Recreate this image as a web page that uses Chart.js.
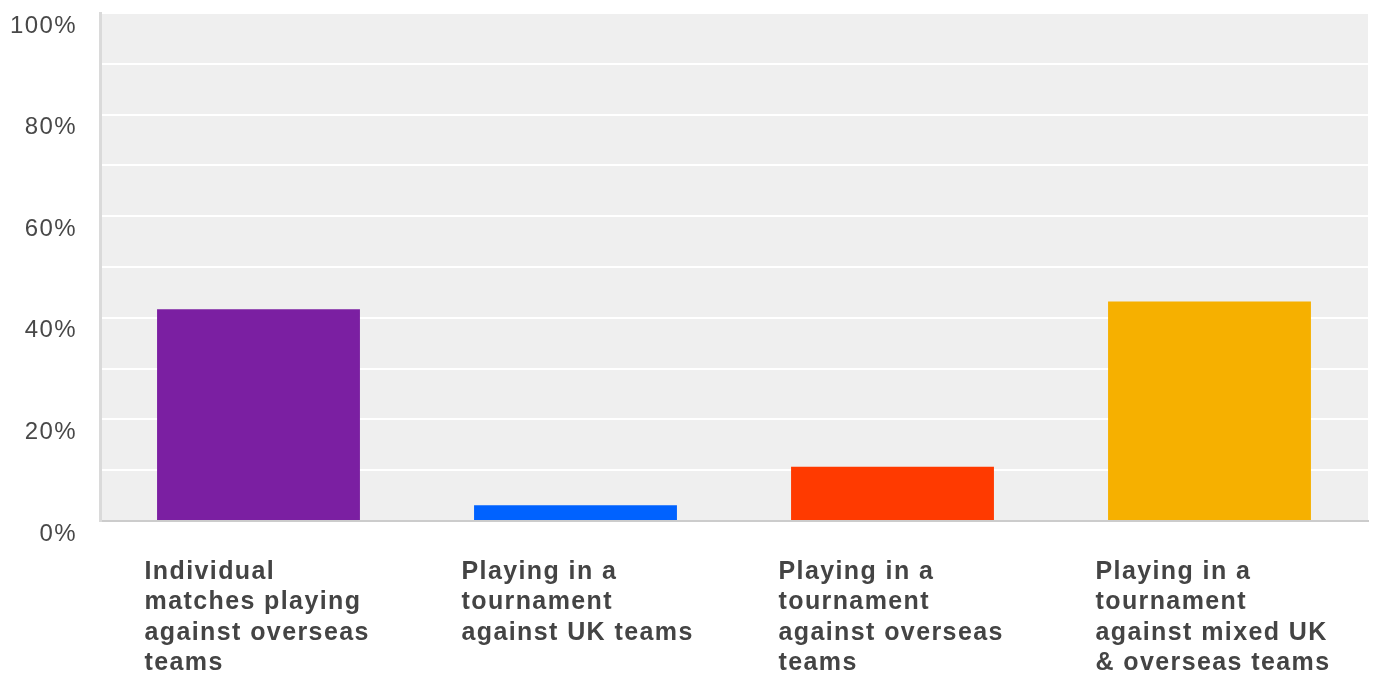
<!DOCTYPE html>
<html>
<head>
<meta charset="utf-8">
<script src="https://cdn.jsdelivr.net/npm/chart.js@4/dist/chart.umd.min.js"></script>
<style>
  html, body { margin: 0; padding: 0; background: #fff; }
  #wrap { width: 1373px; height: 675px; position: relative; }
</style>
</head>
<body>
<div id="wrap"><canvas id="grafico"></canvas></div>
<script>
// categorias (cada uma em linhas) e valores
const categories = [
    ['Individual', 'matches playing', 'against overseas', 'teams'],
    ['Playing in a', 'tournament', 'against UK teams'],
    ['Playing in a', 'tournament', 'against overseas', 'teams'],
    ['Playing in a', 'tournament', 'against mixed UK', '& overseas teams'],
];
const values = [41.7, 3.1, 10.7, 43.2];
const barColors = ['#7b1fa2', '#0062ff', '#ff3a00', '#f6b000'];
const yTickLabels = [0, 20, 40, 60, 80, 100];

// fundo cinza da área do gráfico + espaçamento das letras
const plotBackground = {
    id: 'plotBackground',
    beforeDraw(chart) {
        const {ctx, chartArea: a} = chart;
        ctx.letterSpacing = '1.4px';
        ctx.save();
        ctx.fillStyle = '#efefef';
        ctx.fillRect(a.left, a.top, a.right - a.left, a.bottom - a.top);
        ctx.restore();
    },
};

const ctx = document.getElementById('grafico').getContext('2d');

new Chart(ctx, {
    type: 'bar',
    data: {
        labels: categories,
        datasets: [
            {
                data: values,
                backgroundColor: barColors,
                borderWidth: 0,
                categoryPercentage: 1,
                barPercentage: 0.64,
            },
        ],
    },
    options: {
        responsive: true,
        maintainAspectRatio: false,
        animation: false,
        layout: {
            padding: { top: 13, right: 5, left: 0, bottom: 0 },
        },
        plugins: {
            legend: { display: false },
            tooltip: { enabled: false },
        },
        scales: {
            x: {
                grid: { display: false, drawTicks: false },
                border: { display: true, color: '#cccccc', width: 2 },
                ticks: {
                    autoSkip: false,
                    maxRotation: 0,
                    align: 'start',
                    labelOffset: -114,
                    padding: 36,
                    color: '#444444',
                    font: { family: 'Liberation Sans, Arial, sans-serif', size: 25, weight: 'bold', lineHeight: 1.21 },
                },
                afterFit(scale) {
                    scale.height = 154;
                    scale.paddingLeft = 0;
                    scale.paddingRight = 0;
                },
            },
            y: {
                min: 0,
                max: 100,
                grid: { color: '#ffffff', lineWidth: 2, drawTicks: false },
                border: { display: true, color: '#dadada', width: 3 },
                ticks: {
                    stepSize: 10,
                    autoSkip: false,
                    padding: 23,
                    labelOffset: 13,
                    color: '#484848',
                    font: { family: 'Liberation Sans, Arial, sans-serif', size: 24 },
                    callback: v => (yTickLabels.includes(v) ? v + '%' : ''),
                },
                afterFit(scale) {
                    scale.width = 100;
                    scale.paddingTop = 0;
                    scale.paddingBottom = 0;
                },
            },
        },
    },
    plugins: [plotBackground],
});
</script>
</body>
</html>
